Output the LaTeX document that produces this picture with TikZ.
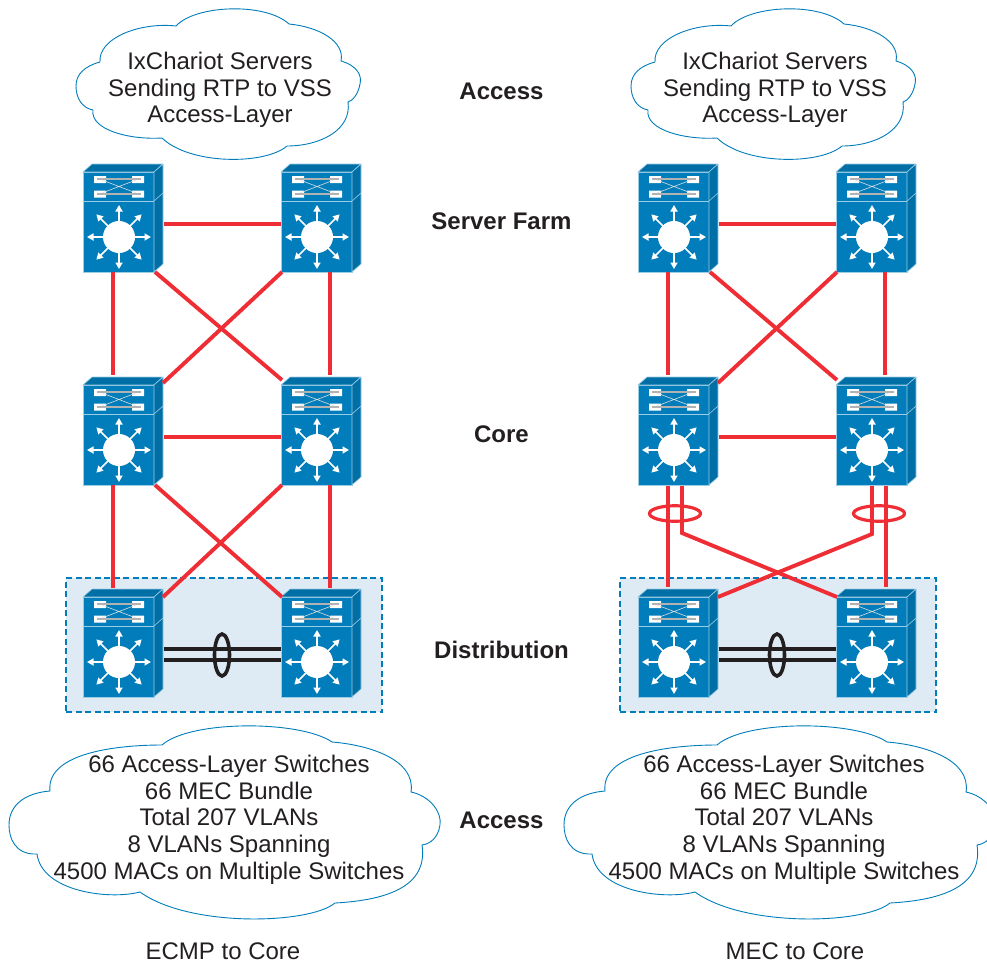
\documentclass[tikz,border=0pt]{standalone}
\usepackage{fontspec}
\setmainfont{Liberation Sans}
\usetikzlibrary{arrows.meta,shapes.geometric}
\definecolor{swblue}{HTML}{007DBA}
\definecolor{swdark}{HTML}{006FA6}
\definecolor{swedge}{HTML}{9CCDE6}
\definecolor{netred}{HTML}{EE2D35}
\definecolor{boxfill}{HTML}{DEEBF5}
\definecolor{inkc}{HTML}{231F20}
\tikzset{
  x=1pt,y=-1pt,
  swfront/.style={draw=swedge,line width=0.8pt,fill=swblue,anchor=north west,minimum width=71pt,minimum height=100pt,inner sep=0pt,outer sep=0pt},
  swside/.style={draw=swedge,line width=0.6pt,fill=swdark,line join=round},
  ray/.style={draw=white,line width=1.7pt,-{Triangle[length=6.5pt,width=7pt]}},
  trunk/.style={draw=netred,line width=3.9pt},
  bundlering/.style={ellipse,draw=netred,line width=3.2pt,minimum width=51pt,minimum height=15.5pt,inner sep=0pt},
  peer/.style={preaction={draw=gray!60,line width=4.6pt},draw=inkc,line width=3.4pt},
  peerring/.style={ellipse,draw=inkc,line width=3.6pt,minimum width=15pt,minimum height=42pt,inner sep=0pt},
  cloudline/.style={draw=swblue,line width=0.9pt,fill=white,line join=miter},
  txt/.style={text=inkc,font=\fontsize{24}{26.7}\selectfont,align=center,inner sep=0pt},
  btxt/.style={text=inkc,font=\fontsize{24}{26}\selectfont\bfseries,inner sep=0pt},
  vssbox/.style={draw=swblue,dash pattern=on 6pt off 3.5pt,line width=2.2pt,fill=boxfill,inner sep=0pt}
}
\newcommand{\mkswitch}[3]{%
  \node[swfront] (#1) at (#2,#3) {};
  \begin{scope}[shift={(#2,#3)}]
    \draw[swside] (0,0) -- (9,-8) -- (80,-8) -- (71,0) -- cycle;
    \draw[swside] (71,0) -- (80,-8) -- (80,92) -- (71,100) -- cycle;
    \draw[draw=swedge,line width=0.6pt] (71,29) -- (80,21);
    \draw[draw=swedge,line width=1pt] (0,29) -- (71,29);
    \fill[white] (11,4) rectangle (23,11) (49,4) rectangle (61,11) (11,18.5) rectangle (23,25.5) (49,18.5) rectangle (61,25.5);
    \draw[gray!60,line width=1.1pt] (14,7) -- (58,7) (14,22) -- (58,22);
    \draw[gray!25,line width=0.6pt] (19,8) -- (53,21) (19,21) -- (53,8);
    \foreach \a in {0,45,...,315}{\draw[ray] (36,65) -- ++(\a:32);}
    \fill[white] (36,65) circle (16);
  \end{scope}}
\newcommand{\mkcloudlow}{%
  (50,791) .. controls (46,755) and (110,745) .. (162,745)
  .. controls (190,720) and (300,720) .. (332,742)
  .. controls (370,745) and (416,760) .. (411,792)
  .. controls (430,796) and (442,812) .. (440,825) .. controls (438,838) and (430,844) .. (422,845)
  .. controls (428,885) and (390,900) .. (335,903)
  .. controls (310,924) and (190,928) .. (140,892)
  .. controls (110,900) and (42,892) .. (37,854)
  .. controls (15,855) and (9,838) .. (9,825) .. controls (9,805) and (25,793) .. (50,791) -- cycle}
\newcommand{\mkcloudhigh}{%
  (100,62) .. controls (98,38) and (140,22) .. (176,26)
  .. controls (195,5) and (265,2) .. (289,24)
  .. controls (320,27) and (345,42) .. (341,61)
  .. controls (358,66) and (362,76) .. (360,84) .. controls (358,95) and (352,101) .. (348,102)
  .. controls (352,130) and (320,146) .. (287,146)
  .. controls (265,165) and (190,165) .. (162,138)
  .. controls (130,140) and (90,130) .. (93,110)
  .. controls (82,108) and (76,98) .. (76,86) .. controls (76,74) and (85,66) .. (100,62) -- cycle}
\begin{document}
\begin{tikzpicture}
\useasboundingbox (0,0) rectangle (987,964);
% distribution boxes
\node[vssbox,anchor=north west,minimum width=316pt,minimum height=134pt] (boxL) at (65,577) {};
\node[vssbox,anchor=north west,minimum width=316pt,minimum height=134pt] (boxR) at (619,577) {};
% clouds
\foreach \dx in {0,555}{
  \begin{scope}[xshift=\dx pt]
    \draw[cloudline] \mkcloudhigh;
    \draw[cloudline] \mkcloudlow;
  \end{scope}}
% switches: left diagram
\mkswitch{la}{83}{172}\mkswitch{lb}{281}{172}
\mkswitch{lc}{83}{385}\mkswitch{ld}{281}{385}
\mkswitch{le}{83}{597}\mkswitch{lf}{281}{597}
% switches: right diagram
\mkswitch{ra}{638}{172}\mkswitch{rb}{836}{172}
\mkswitch{rc}{638}{385}\mkswitch{rd}{836}{385}
\mkswitch{re}{638}{597}\mkswitch{rf}{836}{597}
% links left + right upper tiers
\foreach \A/\B/\C/\D in {la/lb/lc/ld,ra/rb/rc/rd}{
  \draw[trunk] ([xshift=10pt,yshift=-2pt]\A.east) -- ([yshift=-2pt]\B.west);
  \draw[trunk] ([xshift=10pt,yshift=-2pt]\C.east) -- ([yshift=-2pt]\D.west);
  \draw[trunk] ([xshift=30pt]\A.south west) -- ([xshift=30pt,yshift=10pt]\C.north west);
  \draw[trunk] ([xshift=49pt]\B.south west) -- ([xshift=49pt,yshift=10pt]\D.north west);
  \draw[trunk] ([xshift=72pt]\A.south west) -- ([xshift=1pt,yshift=5pt]\D.north west);
  \draw[trunk] ([xshift=1pt]\B.south west) -- ([xshift=9pt,yshift=2pt]\C.north east);
}
% left lower tier
\draw[trunk] ([xshift=30pt]lc.south west) -- ([xshift=30pt,yshift=9pt]le.north west);
\draw[trunk] ([xshift=49pt]ld.south west) -- ([xshift=49pt,yshift=9pt]lf.north west);
\draw[trunk] ([xshift=72pt]lc.south west) -- ([xshift=1pt]lf.north west);
\draw[trunk] ([xshift=1pt]ld.south west) -- ([xshift=9pt]le.north east);
% right lower tier (bundled)
\coordinate (bendL) at (682,533);
\coordinate (bendR) at (872,534);
\draw[trunk] ([xshift=30pt,yshift=-1pt]rc.south west) -- ([xshift=30pt,yshift=10pt]re.north west);
\draw[trunk] ([xshift=50pt,yshift=-1pt]rd.south west) -- ([xshift=50pt,yshift=10pt]rf.north west);
\draw[trunk,line join=miter] ([xshift=44pt,yshift=-1pt]rc.south west) -- (bendL) -- ([xshift=1pt]rf.north west);
\draw[trunk,line join=miter] ([xshift=36pt,yshift=-1pt]rd.south west) -- (bendR) -- ([xshift=9pt]re.north east);
\node[bundlering] (ringL) at (675,513.5) {};
\node[bundlering] (ringR) at (879,513.5) {};
% peer links
\foreach \E/\F/\cx/\rn in {le/lf/222/ringP,re/rf/777/ringQ}{
  \draw[peer] ([xshift=10pt,yshift=-2pt]\E.east) -- ([yshift=-2pt]\F.west);
  \draw[peer] ([xshift=10pt,yshift=-13pt]\E.east) -- ([yshift=-13pt]\F.west);
  \node[peerring] (\rn) at (\cx,655) {};
}
% cloud texts
\node[txt] (t1) at (220,90) {IxChariot Servers\\Sending RTP to VSS\\Access-Layer};
\node[txt] (t2) at (775,90) {IxChariot Servers\\Sending RTP to VSS\\Access-Layer};
\node[txt] (t3) at (229,819.5) {66 Access-Layer Switches\\66 MEC Bundle\\Total 207 VLANs\\8 VLANs Spanning\\4500 MACs on Multiple Switches};
\node[txt] (t4) at (784,819.5) {66 Access-Layer Switches\\66 MEC Bundle\\Total 207 VLANs\\8 VLANs Spanning\\4500 MACs on Multiple Switches};
% tier labels
\node[btxt] (l1) at (501.5,91) {Access};
\node[btxt] (l2) at (501.5,221) {Server Farm};
\node[btxt] (l3) at (501.5,434) {Core};
\node[btxt] (l4) at (501.5,650) {Distribution};
\node[btxt] (l5) at (501.5,820) {Access};
\node[txt] (c1) at (223,951) {ECMP to Core};
\node[txt] (c2) at (795,951) {MEC to Core};
\end{tikzpicture}
\end{document}
